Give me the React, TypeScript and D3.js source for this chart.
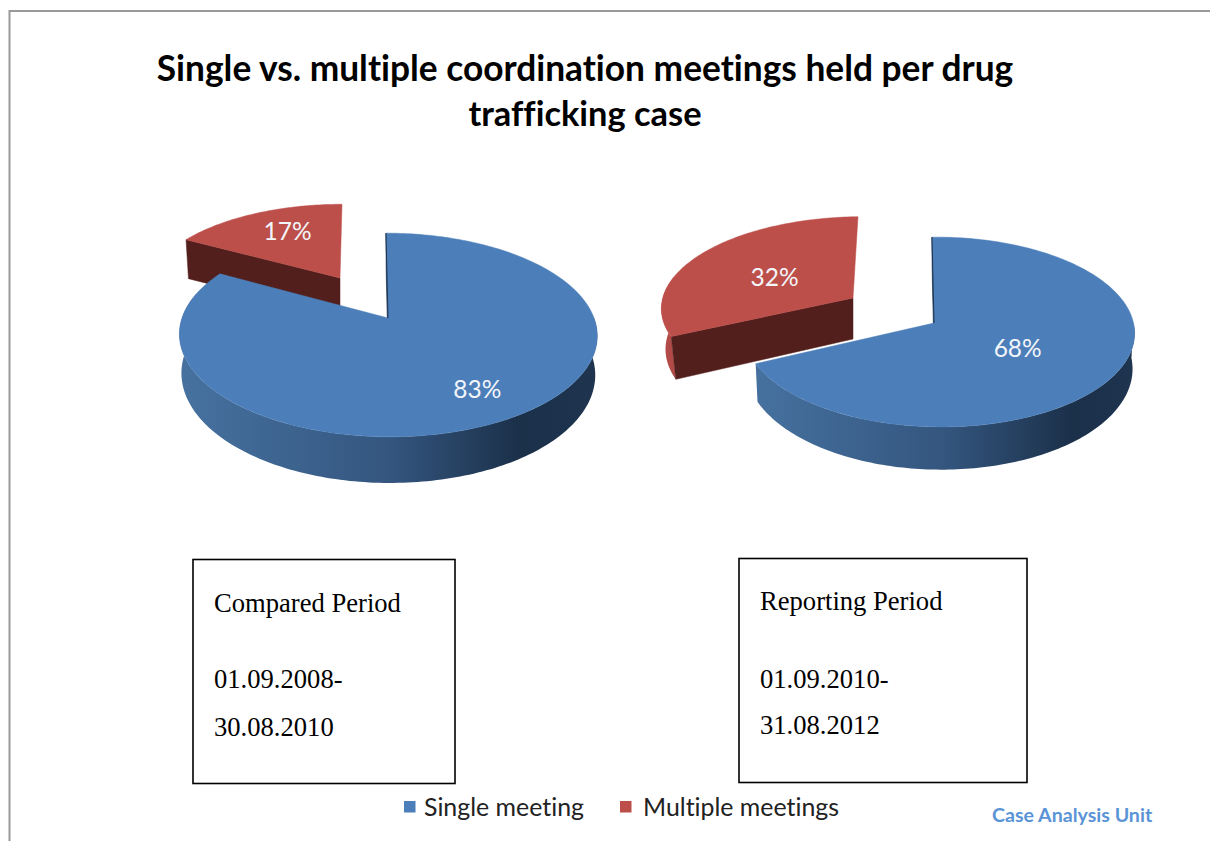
import React from "react";
import * as d3 from "d3";

const categories = ["Single meeting", "Multiple meetings"];
const comparedShares = [83, 17];
const reportingShares = [68, 32];
const comparedPeriod = ["Compared Period", "01.09.2008-", "30.08.2010"];
const reportingPeriod = ["Reporting Period", "01.09.2010-", "31.08.2012"];
const titleLines = [
  "Single vs. multiple coordination meetings held per drug",
  "trafficking case",
];

const BLUE = "#4c7eb9";
const RED = "#bd4f4b";
const FONT = "Lato, sans-serif";
const TAU = Math.PI * 2;

// perspective disc: apex of the slice on screen, radius, height and tilt
type Disc = { x: number; y: number; r: number; h: number; k: number; kx: number; skew: number };

const project = (d: Disc, a: number): [number, number] => {
  const u = Math.sin(a);
  const v = Math.cos(a);
  const w = 1 + d.k * v + d.kx * u;
  return [d.x + (d.r * u) / w + d.skew * v, d.y - (d.h * v) / w];
};

const rim = (d: Disc, a0: number, a1: number) => {
  const n = Math.max(2, Math.ceil(Math.abs(a1 - a0) / 0.02));
  return d3.range(n + 1).map((i) => project(d, a0 + ((a1 - a0) * i) / n));
};

const line = d3.line();

type Slice = { top: Disc; bottom: Disc; labelAt: [number, number] };

const Wedge = ({ share, slice, color, wall, cut, gradient }: any) => {
  const { startAngle, endAngle } = share;
  const { top, bottom } = slice;
  const from = Math.max(startAngle, TAU * 0.25);
  const to = Math.min(endAngle, TAU * 0.79);
  const hasWall = to > from;
  const outer = hasWall
    ? line([...rim(top, from, to), ...rim(bottom, to, from)])! + "Z"
    : null;
  const face = line([
    project(top, startAngle),
    [top.x, top.y],
    [bottom.x, bottom.y],
    project(bottom, startAngle),
  ] as [number, number][])! + "Z";
  const cap = line([[top.x, top.y], ...rim(top, startAngle, endAngle)] as [number, number][])! + "Z";
  return (
    <g>
      {outer && <path d={outer} fill={gradient ?? wall} />}
      <path d={face} fill={cut} stroke={cut} strokeWidth={0.5} />
      <path d={cap} fill={color} stroke={color} strokeWidth={0.5} />
    </g>
  );
};

const Pie3D = ({ values, slices, gradient }: { values: number[]; slices: Slice[]; gradient: string }) => {
  const shares = d3.pie<number>().sort(null)(values);
  const order = [1, 0]; // red goes first, the blue cap hides its foot
  return (
    <g>
      {order.map((i) => (
        <Wedge
          key={categories[i]}
          share={shares[i]}
          slice={slices[i]}
          color={i === 0 ? BLUE : RED}
          wall={i === 0 ? "#34567f" : "#b24a47"}
          cut={i === 0 ? "#1f3550" : "#521f1c"}
          gradient={i === 0 ? gradient : undefined}
        />
      ))}
      {/* thin dark sliver along the blue slice's first edge */}
      <path
        d={line([project(slices[0].top, 0), [slices[0].top.x, slices[0].top.y]] as [number, number][])!}
        stroke="#1f3550"
        strokeWidth={1}
        fill="none"
      />
      {shares.map((s, i) => {
        const mid = (s.startAngle + s.endAngle) / 2;
        const t = slices[i].top;
        const [px, py] = project(t, mid);
        const [fx, fy] = slices[i].labelAt;
        return (
          <text
            key={categories[i]}
            x={t.x + (px - t.x) * fx}
            y={t.y + (py - t.y) * fy}
            dy="0.36em"
            textAnchor="middle"
            fill="#f2f5fa"
            fontFamily={FONT}
            fontSize={24.5}
          >
            {values[i]}%
          </text>
        );
      })}
    </g>
  );
};

const comparedSlices: Slice[] = [
  {
    top: { x: 388, y: 318, r: 206, h: 99, k: 1 / 6, kx: 0, skew: -2 },
    bottom: { x: 388, y: 356, r: 204, h: 105.8, k: 1 / 6, kx: 0, skew: -2 },
    labelAt: [0.72, 0.72],
  },
  {
    top: { x: 340, y: 278, r: 191, h: 86, k: 1 / 6, kx: 0, skew: 2 },
    bottom: { x: 340, y: 317, r: 188, h: 86, k: 1 / 6, kx: 0, skew: 2 },
    labelAt: [0.63, 0.72],
  },
];

const reportingSlices: Slice[] = [
  {
    top: { x: 934, y: 323, r: 194.5, h: 94, k: 0.095, kx: -0.025, skew: -2 },
    bottom: { x: 934, y: 358, r: 192.5, h: 101, k: 0.095, kx: -0.025, skew: -2 },
    labelAt: [0.47, 0.46],
  },
  {
    top: { x: 853, y: 298, r: 195, h: 89, k: 0.095, kx: -0.025, skew: 5 },
    bottom: { x: 853, y: 339, r: 191, h: 93, k: 0.095, kx: -0.025, skew: 3 },
    labelAt: [0.52, 0.47],
  },
];

const PeriodBox = ({ x, y, w, h, lines, ys }: any) => (
  <g>
    <rect x={x} y={y} width={w} height={h} fill="#fff" stroke="#000" strokeWidth={1.6} />
    {lines.map((t: string, i: number) => (
      <text key={t} x={x + 21} y={ys[i]} fontFamily="'Liberation Serif', serif" fontSize={26.6} fill="#000">
        {t}
      </text>
    ))}
  </g>
);

const App = () => {
  const legendX = d3.scaleOrdinal<string, number>().domain(categories).range([404, 620]);
  const legendTextX = d3.scaleOrdinal<string, number>().domain(categories).range([424, 643]);
  const legendColor = d3.scaleOrdinal<string, string>().domain(categories).range([BLUE, RED]);

  return (
    <svg
      width={1210}
      height={841}
      viewBox="0 0 1210 841"
      style={{ position: "absolute", left: 0, top: 0, background: "#fff" }}
    >
      <defs>
        <linearGradient id="wallA" gradientUnits="userSpaceOnUse" x1={184} x2={594} y1={0} y2={0}>
          <stop offset="0" stopColor="#46719f" />
          <stop offset="0.5" stopColor="#34567f" />
          <stop offset="0.82" stopColor="#1b3049" />
          <stop offset="1" stopColor="#1e344f" />
        </linearGradient>
        <linearGradient id="wallB" gradientUnits="userSpaceOnUse" x1={755} x2={1130} y1={0} y2={0}>
          <stop offset="0" stopColor="#46719f" />
          <stop offset="0.5" stopColor="#34567f" />
          <stop offset="0.85" stopColor="#1b3049" />
          <stop offset="1" stopColor="#1e344f" />
        </linearGradient>
      </defs>

      <path d="M9.5 841V11H1210" fill="none" stroke="#999" strokeWidth={2} />

      {titleLines.map((t, i) => (
        <text
          key={t}
          x={585}
          y={[81, 126][i]}
          textAnchor="middle"
          fontFamily={FONT}
          fontWeight={700}
          fontSize={[35.3, 34.4][i]}
          fill="#000"
          style={{ fontVariantLigatures: "none" }}
        >
          {t}
        </text>
      ))}

      <Pie3D values={comparedShares} slices={comparedSlices} gradient="url(#wallA)" />
      <Pie3D values={reportingShares} slices={reportingSlices} gradient="url(#wallB)" />

      <PeriodBox x={193} y={559.5} w={262} h={224} lines={comparedPeriod} ys={[612, 688, 736]} />
      <PeriodBox x={739} y={558.5} w={288} h={224} lines={reportingPeriod} ys={[610, 688, 734]} />

      {categories.map((c) => (
        <g key={c}>
          <rect x={legendX(c)} y={801} width={11.5} height={11.5} fill={legendColor(c)} />
          <text
            x={legendTextX(c)}
            y={816}
            fontFamily={FONT}
            fontSize={24.9}
            fill="#222"
            style={{ fontVariantLigatures: "none" }}
          >
            {c}
          </text>
        </g>
      ))}

      <text x={992} y={822} fontFamily={FONT} fontWeight={700} fontSize={19.6} fill="#5b94d6">
        Case Analysis Unit
      </text>
    </svg>
  );
};

export default App;
